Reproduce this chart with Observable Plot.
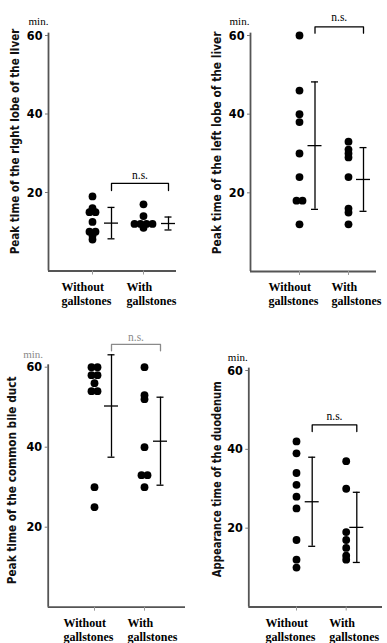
<!DOCTYPE html>
<html><head><meta charset="utf-8">
<script src="https://cdn.jsdelivr.net/npm/d3@7"></script>
<script src="https://cdn.jsdelivr.net/npm/@observablehq/plot@0.6"></script>
<style>
body{margin:0;background:#fff;}
#root{position:relative;width:387px;height:643px;overflow:hidden;background:#fff;}
</style></head><body><div id="root"></div>
<script>
// ---- data (minutes) ----
const groupLabels = ["Without\ngallstones", "With\ngallstones"];
const yTicks = [20, 40, 60];
const yUnit = "min.";
const sigLabel = "n.s.";
const titles = [
  "Peak time of the right lobe of the liver",
  "Peak time of the left lobe of the liver",
  "Peak time of the common bile duct",
  "Appearance time of the duodenum"
];
const rightLobeWithout = [19, 16, 15, 15, 12.5, 10, 10, 9, 8];
const rightLobeWith = [17, 14, 12, 12, 12, 12, 11];
const rightLobeMean = [12.2, 12.1];
const rightLobeSD = [4.0, 1.65];

const leftLobeWithout = [60, 46, 40, 38, 30, 24, 18, 18, 12];
const leftLobeWith = [33, 31, 30, 29, 24, 16, 15, 12];
const leftLobeMean = [32.0, 23.4];
const leftLobeSD = [16.2, 8.1];

const bileDuctWithout = [60, 60, 58, 58, 56, 54, 54, 30, 25];
const bileDuctWith = [60, 53, 52, 40, 33, 33, 30];
const bileDuctMean = [50.3, 41.5];
const bileDuctSD = [12.8, 11.0];

const duodenumWithout = [42, 39, 34, 31, 28, 25, 17, 12, 10];
const duodenumWith = [37, 30, 19, 17, 15, 13, 12];
const duodenumMean = [26.7, 20.2];
const duodenumSD = [11.3, 8.9];

// ---- layout (pixels inside each panel) ----
const SANS = "'Liberation Sans Narrow','DejaVu Sans Condensed','Arial Narrow','Liberation Sans',sans-serif";
const SERIF = "'Liberation Serif','DejaVu Serif',serif";

const panels = [
  {left:0, top:0, width:194, height:320, axisX:48, tick1:92, tick2:143, axisEnd:176, y60:35, y0:270.5,
   err:[19, 25], bracket:[22.3, 20.5], labelX:15, labelY:33, labelLen:226, minDx:-10, minDy:-18, nsDy:-8, faint:"#000",
   title:titles[0], values:[rightLobeWithout, rightLobeWith], mean:rightLobeMean, sd:rightLobeSD},
  {left:194, top:0, width:193, height:320, axisX:56, tick1:105, tick2:154, axisEnd:182, y60:35, y0:271,
   err:[15.5, 15], bracket:[62.2, 60.6], labelX:23, labelY:32.7, labelLen:223, minDx:-11, minDy:-18, nsDy:-10, faint:"#000",
   title:titles[1], values:[leftLobeWithout, leftLobeWith], mean:leftLobeMean, sd:leftLobeSD},
  {left:0, top:320, width:194, height:323, axisX:47.7, tick1:94, tick2:144, axisEnd:185, y60:46.7, y0:286.7,
   err:[17, 16], bracket:[65.7, 64.1], labelX:12, labelY:31.7, labelLen:208, minDx:-15, minDy:-17, nsDy:-7, faint:"#8a8a8a",
   title:titles[2], values:[bileDuctWithout, bileDuctWith], mean:bileDuctMean, sd:bileDuctSD},
  {left:194, top:320, width:193, height:323, axisX:54.3, tick1:102, tick2:151.7, axisEnd:188, y60:50, y0:286.5,
   err:[15.7, 10.6], bracket:[46.2, 44.5], labelX:23, labelY:32.4, labelLen:196, minDx:-11, minDy:-17, nsDy:-9, faint:"#000",
   title:titles[3], values:[duodenumWithout, duodenumWith], mean:duodenumMean, sd:duodenumSD}
];

function drawPanel(c) {
  const ppu = c.tick2 - c.tick1;
  const xmin = 1 - (c.tick1 - c.axisX) / ppu;
  const xmax = 2 + (c.axisEnd - c.tick2) / ppu;
  const gap = 6;
  const dots = [];
  c.values.forEach((vals, gi) => {
    const counts = d3.rollup(vals, v => v.length, d => d);
    const seen = new Map();
    vals.forEach(v => {
      const k = counts.get(v), i = seen.get(v) || 0;
      seen.set(v, i + 1);
      dots.push({x: gi + 1 + ((i - (k - 1) / 2) * gap) / ppu, y: v});
    });
  });
  const err = c.mean.map((m, i) => ({x: i + 1 + c.err[i] / ppu, m, lo: m - c.sd[i], hi: m + c.sd[i]}));
  const cap = 3.5 / ppu, mw = 7 / ppu;
  const caps = err.flatMap(e => [{x1: e.x - cap, x2: e.x + cap, y: e.lo}, {x1: e.x - cap, x2: e.x + cap, y: e.hi}]);
  const means = err.map(e => ({x1: e.x - mw, x2: e.x + mw, y: e.m}));
  const [bTop, bTail] = c.bracket;
  const bracket = [
    {x: err[0].x, y: bTail}, {x: err[0].x, y: bTop}, {x: err[1].x, y: bTop}, {x: err[1].x, y: bTail}
  ];
  const ns = [{x: (err[0].x + err[1].x) / 2, y: bTop}];

  const svg = Plot.plot({
    width: c.width, height: c.height,
    marginLeft: c.axisX, marginRight: c.width - c.axisEnd,
    marginTop: c.y60, marginBottom: c.height - c.y0,
    x: {domain: [xmin, xmax]},
    y: {domain: [0, 60]},
    style: {position: "absolute", left: c.left + "px", top: c.top + "px", background: "transparent", overflow: "visible"},
    marks: [
      Plot.ruleX([xmin], {y1: 0, y2: 60.6, stroke: "#555", strokeWidth: 1.8}),
      Plot.ruleY([0], {x1: xmin, x2: xmax, stroke: "#555", strokeWidth: 1.8}),
      Plot.axisY(yTicks, {tickSize: 3, tickPadding: 3, label: null, stroke: "#777",
        fontSize: 12.5, fontWeight: "bold", fontFamily: SANS}),
      Plot.axisX([1, 2], {tickSize: 4, fill: "none", stroke: "#999", label: null}),
      Plot.axisX([1], {tickSize: 0, tickPadding: 10, label: null, tickFormat: () => groupLabels[0],
        textAnchor: "start", dx: -31, fontSize: 12, fontWeight: "bold", fontFamily: SERIF, lineHeight: 1.15}),
      Plot.axisX([2], {tickSize: 0, tickPadding: 10, label: null, tickFormat: () => groupLabels[1],
        textAnchor: "start", dx: -17, fontSize: 12, fontWeight: "bold", fontFamily: SERIF, lineHeight: 1.15}),
      Plot.text([c.title], {frameAnchor: "left", textAnchor: "middle", y: c.labelY, dx: c.labelX - c.axisX, rotate: -90,
        fontSize: 12, fontWeight: "bold", fontFamily: SANS, fill: "#111"}),
      Plot.text([yUnit], {frameAnchor: "top-left", textAnchor: "middle", dx: c.minDx, dy: c.minDy, fontSize: 11,
        fontFamily: SERIF, fill: c.faint}),
      Plot.dot(dots, {x: "x", y: "y", r: 3.9, fill: "#000", stroke: "none"}),
      Plot.ruleX(err, {x: "x", y1: "lo", y2: "hi", stroke: "#000", strokeWidth: 1.3}),
      Plot.ruleY(caps, {x1: "x1", x2: "x2", y: "y", stroke: "#000", strokeWidth: 1.3}),
      Plot.ruleY(means, {x1: "x1", x2: "x2", y: "y", stroke: "#000", strokeWidth: 1.3}),
      Plot.line(bracket, {x: "x", y: "y", stroke: c.faint, strokeWidth: 1.3, curve: "linear"}),
      Plot.text(ns, {x: "x", y: "y", dy: c.nsDy, text: () => sigLabel, fontSize: 11.5,
        fontFamily: SERIF, fill: c.faint})
    ]
  });
  document.getElementById("root").appendChild(svg);
  // condense the rotated axis title to the length it has in the figure
  svg.querySelectorAll("text").forEach(t => {
    const tr = t.getAttribute("transform") || "";
    if (tr.indexOf("rotate") >= 0 && t.textContent === c.title) {
      const len = t.getComputedTextLength();
      if (len > 0) {
        const k = Math.min(1, c.labelLen / len);
        t.setAttribute("transform", tr + " scale(" + k + ",1)");
      }
    }
  });
}
panels.forEach(drawPanel);
</script>
</body></html>
